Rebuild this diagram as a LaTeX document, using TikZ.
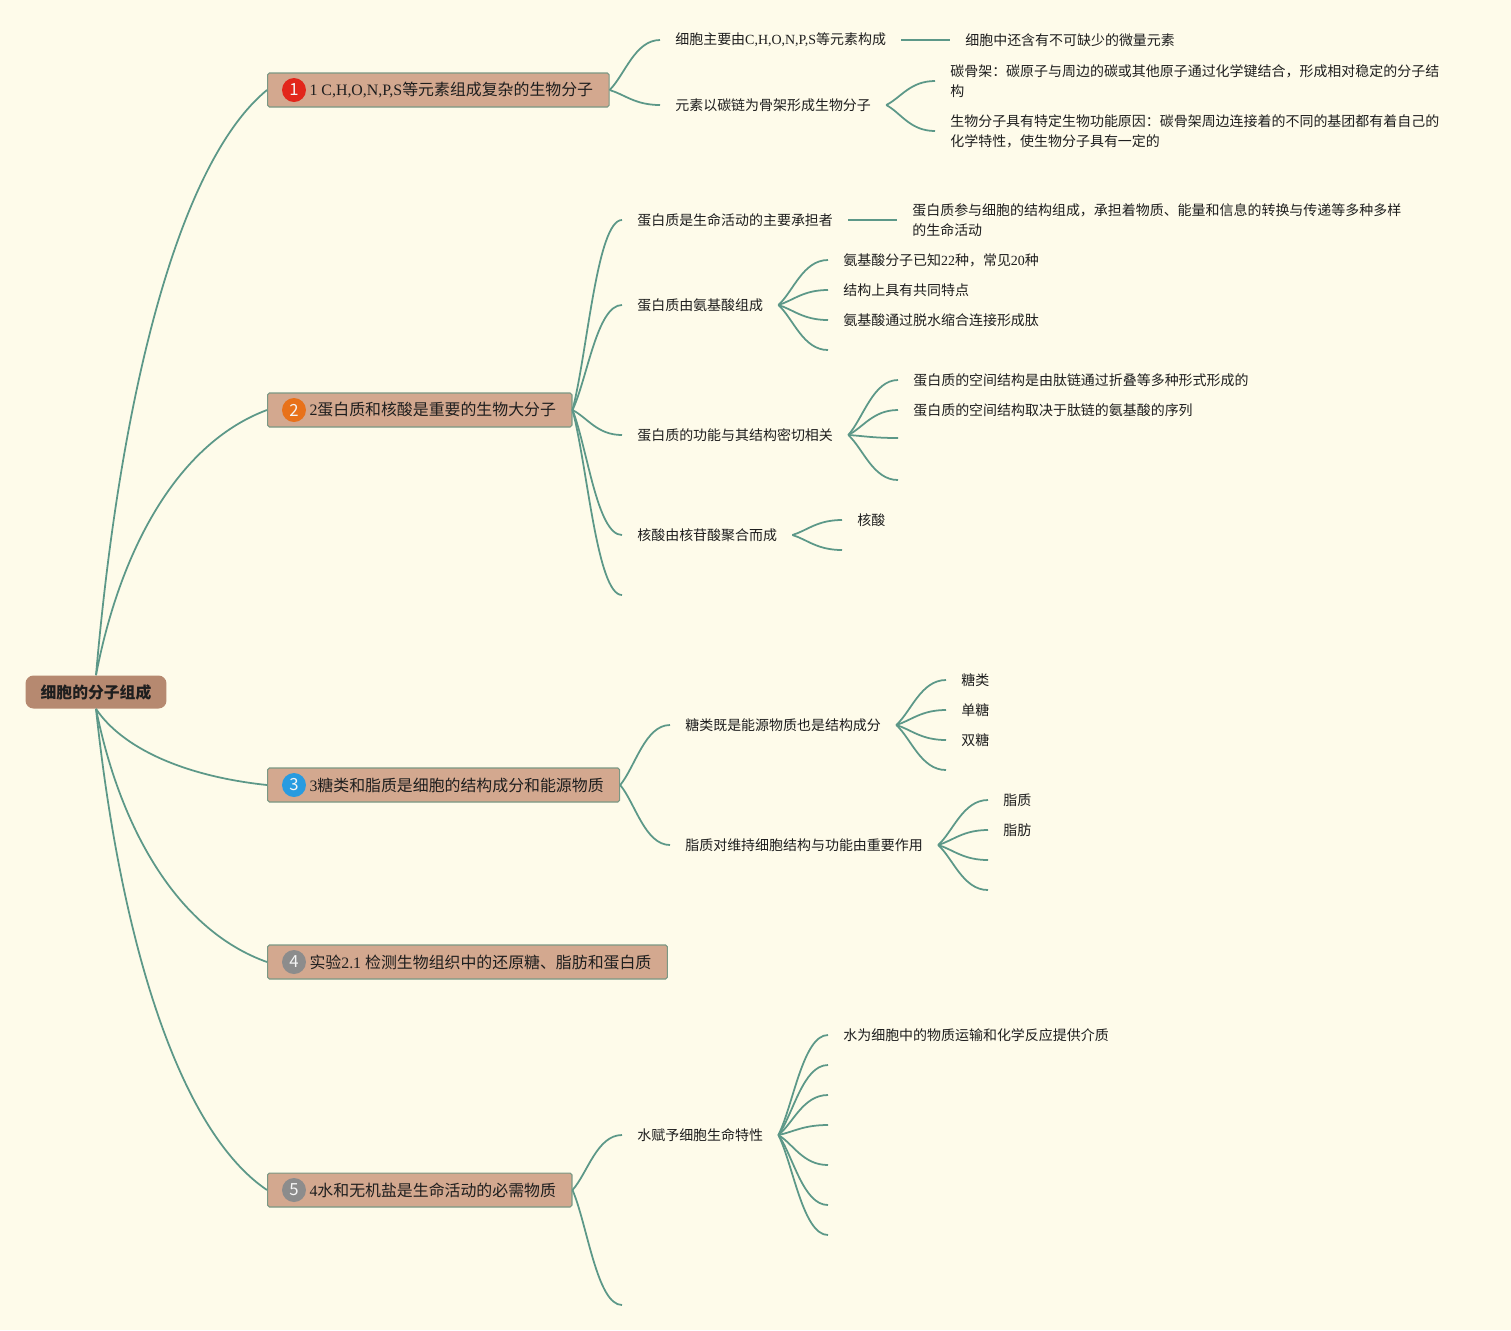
\documentclass[tikz,border=0pt]{standalone}
\usepackage{fontspec}
\setmainfont{Noto Sans CJK SC}
\newfontfamily\lat{Liberation Serif}
\usepackage{tikz}
\usetikzlibrary{calc}

\definecolor{paper}{RGB}{254,251,234}
\definecolor{limbcol}{RGB}{92,152,136}
\definecolor{boxcol}{RGB}{211,168,143}
\definecolor{boxline}{RGB}{122,152,132}
\definecolor{rootcol}{RGB}{182,137,112}
\definecolor{inkcol}{RGB}{30,30,30}
\definecolor{badgered}{RGB}{226,38,27}
\definecolor{badgeorange}{RGB}{232,113,26}
\definecolor{badgeblue}{RGB}{40,155,224}
\definecolor{badgegray}{RGB}{140,140,140}

\tikzset{
  root/.style={rectangle, rounded corners=0.16cm, fill=rootcol, minimum width=2.82cm,
    minimum height=0.66cm, text=inkcol, font={\fontsize{9}{11}\selectfont\bfseries}},
  topic/.style={rectangle, rounded corners=1pt, fill=boxcol, draw=boxline, line width=0.6pt,
    minimum height=0.68cm, inner xsep=0.32cm, inner ysep=0pt, anchor=west, text=inkcol,
    font={\fontsize{9.05}{11}\selectfont}},
  badge/.style={circle, fill=#1, minimum size=0.48cm, inner sep=0pt, text=white!92!gray,
    font={\fontsize{9.5}{10}\selectfont}},
  leaf/.style={anchor=west, inner xsep=0.3cm, inner ysep=1pt, align=left, text=inkcol,
    font={\fontsize{7.95}{11.3}\selectfont}},
  stem/.style={draw=limbcol, line width=1pt},
  trunk/.style={stem, to path={.. controls ($(\tikztostart)!0.5!(\tikztotarget)+(-60,0)$)
    and ($(\tikztotarget)!0.12!(\tikztostart)+(-65,0)$) .. (\tikztotarget)}},
  limb/.style={stem, to path={.. controls ($(\tikztostart)!0.3!(\tikztotarget)$)
    and ($(\tikztotarget)+(-25,0)$) .. (\tikztotarget)}},
}

\begin{document}
\begin{tikzpicture}[x=0.02cm, y=-0.02cm]
  \useasboundingbox (0,0) rectangle (1511,1330);
  \fill[paper] (0,0) rectangle (1511,1330);

  % centre and main topics
  \node[root] (cell) at (96,692) {细胞的分子组成};
  \node[topic] (t1) at (267,90) {\hspace*{0.52cm}{\lat 1 C,H,O,N,P,S}等元素组成复杂的生物分子};
  \node[topic] (t2) at (267,410) {\hspace*{0.52cm}{\lat 2}蛋白质和核酸是重要的生物大分子};
  \node[topic] (t3) at (267,785) {\hspace*{0.52cm}{\lat 3}糖类和脂质是细胞的结构成分和能源物质};
  \node[topic] (t4) at (267,962) {\hspace*{0.52cm}实验{\lat 2.1 }检测生物组织中的还原糖、脂肪和蛋白质};
  \node[topic] (t5) at (267,1190) {\hspace*{0.52cm}{\lat 4}水和无机盐是生命活动的必需物质};
  \node[badge=badgered] at ([xshift=0.54cm]t1.west) {1};
  \node[badge=badgeorange] at ([xshift=0.54cm]t2.west) {2};
  \node[badge=badgeblue] at ([xshift=0.54cm]t3.west) {3};
  \node[badge=badgegray] at ([xshift=0.54cm]t4.west) {4};
  \node[badge=badgegray] at ([xshift=0.54cm]t5.west) {5};

  % topic 1
  \node[leaf] (a1) at (660,40) {细胞主要由{\lat C,H,O,N,P,S}等元素构成};
  \node[leaf] (a1x) at (950,40) {细胞中还含有不可缺少的微量元素};
  \node[leaf] (a2) at (660,105) {元素以碳链为骨架形成生物分子};
  \node[leaf] (a2a) at (935,81) {碳骨架：碳原子与周边的碳或其他原子通过化学键结合，形成相对稳定的分子结\\构};
  \node[leaf] (a2b) at (935,131) {生物分子具有特定生物功能原因：碳骨架周边连接着的不同的基团都有着自己的\\化学特性，使生物分子具有一定的};

  % topic 2
  \node[leaf] (b1) at (622,220) {蛋白质是生命活动的主要承担者};
  \node[leaf] (b1x) at (897,220) {蛋白质参与细胞的结构组成，承担着物质、能量和信息的转换与传递等多种多样\\的生命活动};
  \node[leaf] (b2) at (622,305) {蛋白质由氨基酸组成};
  \node[leaf] (b2a) at (828,260) {氨基酸分子已知{\lat 22}种，常见{\lat 20}种};
  \node[leaf] (b2b) at (828,290) {结构上具有共同特点};
  \node[leaf] (b2c) at (828,320) {氨基酸通过脱水缩合连接形成肽};
  \coordinate (b2d) at (828,350);
  \node[leaf] (b3) at (622,435) {蛋白质的功能与其结构密切相关};
  \node[leaf] (b3a) at (898,380) {蛋白质的空间结构是由肽链通过折叠等多种形式形成的};
  \node[leaf] (b3b) at (898,410) {蛋白质的空间结构取决于肽链的氨基酸的序列};
  \coordinate (b3c) at (898,438);
  \coordinate (b3d) at (898,480);
  \node[leaf] (b4) at (622,535) {核酸由核苷酸聚合而成};
  \node[leaf] (b4a) at (842,520) {核酸};
  \coordinate (b4b) at (842,550);
  \coordinate (b5) at (622,595);

  % topic 3
  \node[leaf] (c1) at (670,725) {糖类既是能源物质也是结构成分};
  \node[leaf] (c1a) at (946,680) {糖类};
  \node[leaf] (c1b) at (946,710) {单糖};
  \node[leaf] (c1c) at (946,740) {双糖};
  \coordinate (c1d) at (946,770);
  \node[leaf] (c2) at (670,845) {脂质对维持细胞结构与功能由重要作用};
  \node[leaf] (c2a) at (988,800) {脂质};
  \node[leaf] (c2b) at (988,830) {脂肪};
  \coordinate (c2c) at (988,860);
  \coordinate (c2d) at (988,890);

  % topic 5
  \node[leaf] (d1) at (622,1135) {水赋予细胞生命特性};
  \node[leaf] (d1a) at (828,1035) {水为细胞中的物质运输和化学反应提供介质};
  \coordinate (d1b) at (828,1065);
  \coordinate (d1c) at (828,1095);
  \coordinate (d1d) at (828,1125);
  \coordinate (d1e) at (828,1165);
  \coordinate (d1f) at (828,1205);
  \coordinate (d1g) at (828,1235);
  \coordinate (d2) at (622,1305);

  % connectors
  \draw[trunk] (cell.north) to (t1.west);
  \draw[trunk] (cell.north) to (t2.west);
  \draw[trunk] (cell.south) to (t3.west);
  \draw[trunk] (cell.south) to (t4.west);
  \draw[trunk] (cell.south) to (t5.west);

  \draw[limb] (t1.east) to (a1.west);
  \draw[limb] (t1.east) to (a2.west);
  \draw[stem] (a1.east) -- (a1x.west);
  \draw[limb] (a2.east) to (a2a.west);
  \draw[limb] (a2.east) to (a2b.west);

  \draw[limb] (t2.east) to (b1.west);
  \draw[limb] (t2.east) to (b2.west);
  \draw[limb] (t2.east) to (b3.west);
  \draw[limb] (t2.east) to (b4.west);
  \draw[limb] (t2.east) to (b5);
  \draw[stem] (b1.east) -- (b1x.west);
  \draw[limb] (b2.east) to (b2a.west);
  \draw[limb] (b2.east) to (b2b.west);
  \draw[limb] (b2.east) to (b2c.west);
  \draw[limb] (b2.east) to (b2d);
  \draw[limb] (b3.east) to (b3a.west);
  \draw[limb] (b3.east) to (b3b.west);
  \draw[limb] (b3.east) to (b3c);
  \draw[limb] (b3.east) to (b3d);
  \draw[limb] (b4.east) to (b4a.west);
  \draw[limb] (b4.east) to (b4b);

  \draw[limb] (t3.east) to (c1.west);
  \draw[limb] (t3.east) to (c2.west);
  \draw[limb] (c1.east) to (c1a.west);
  \draw[limb] (c1.east) to (c1b.west);
  \draw[limb] (c1.east) to (c1c.west);
  \draw[limb] (c1.east) to (c1d);
  \draw[limb] (c2.east) to (c2a.west);
  \draw[limb] (c2.east) to (c2b.west);
  \draw[limb] (c2.east) to (c2c);
  \draw[limb] (c2.east) to (c2d);

  \draw[limb] (t5.east) to (d1.west);
  \draw[limb] (t5.east) to (d2);
  \draw[limb] (d1.east) to (d1a.west);
  \foreach \s in {b,c,d,e,f,g}
    \draw[limb] (d1.east) to (d1\s);
\end{tikzpicture}
\end{document}
